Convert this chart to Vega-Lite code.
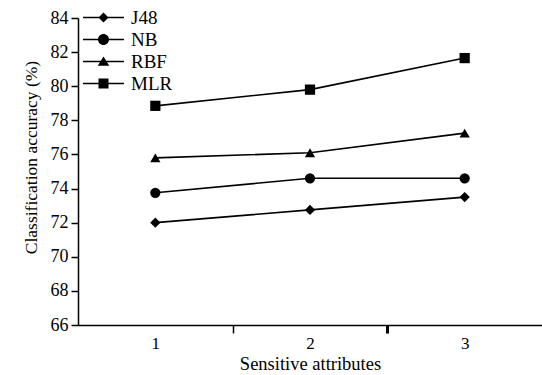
{
  "$schema": "https://vega.github.io/schema/vega-lite/v6.json",
  "width": 464,
  "height": 307,
  "autosize": {"type": "none"},
  "padding": {"left": 78, "top": 18, "right": 0, "bottom": 50},
  "background": "white",
  "config": {
    "view": {"stroke": null},
    "font": "Liberation Serif",
    "axis": {
      "grid": false,
      "domainColor": "black",
      "domainWidth": 1.5,
      "tickColor": "black",
      "tickWidth": 1.5,
      "labelColor": "black",
      "titleColor": "black",
      "labelFont": "Liberation Serif",
      "titleFont": "Liberation Serif",
      "labelFontSize": 18,
      "titleFontSize": 18,
      "titleFontWeight": "normal"
    }
  },
  "data": {
    "values": [
      {"method": "J48", "attr": 1, "acc": 72.0},
      {"method": "J48", "attr": 2, "acc": 72.75},
      {"method": "J48", "attr": 3, "acc": 73.5},
      {"method": "NB", "attr": 1, "acc": 73.75},
      {"method": "NB", "attr": 2, "acc": 74.6},
      {"method": "NB", "attr": 3, "acc": 74.6},
      {"method": "RBF", "attr": 1, "acc": 75.8},
      {"method": "RBF", "attr": 2, "acc": 76.1},
      {"method": "RBF", "attr": 3, "acc": 77.25},
      {"method": "MLR", "attr": 1, "acc": 78.85},
      {"method": "MLR", "attr": 2, "acc": 79.8},
      {"method": "MLR", "attr": 3, "acc": 81.65}
    ]
  },
  "encoding": {
    "x": {
      "field": "attr",
      "type": "quantitative",
      "scale": {"domain": [0.5, 3.5], "nice": false, "zero": false},
      "axis": {
        "values": [1, 1.5, 2, 2.5, 3],
        "labelExpr": "datum.value % 1 ? '' : '' + datum.value",
        "tickOpacity": {"condition": {"test": "datum.value % 1", "value": 1}, "value": 0},
        "tickWidth": {"condition": {"test": "datum.value == 2.5", "value": 3}, "value": 1.5},
        "tickSize": 8,
        "labelPadding": 2,
        "labelFontSize": 17,
        "titleFontSize": 18.5,
        "title": "Sensitive attributes",
        "titlePadding": 3
      }
    },
    "y": {
      "field": "acc",
      "type": "quantitative",
      "scale": {"domain": [66, 84], "nice": false, "zero": false},
      "axis": {
        "values": [66, 68, 70, 72, 74, 76, 78, 80, 82, 84],
        "tickSize": 7,
        "labelPadding": 3,
        "labelFontSize": 18,
        "titleFontSize": 17.5,
        "title": "Classification accuracy (%)",
        "titlePadding": 10,
        "titleY": 139
      }
    }
  },
  "layer": [
    {
      "mark": {"type": "line", "color": "black", "strokeWidth": 1.6},
      "encoding": {"detail": {"field": "method"}}
    },
    {
      "mark": {"type": "point", "filled": true, "color": "black", "size": 105, "opacity": 1},
      "encoding": {
        "shape": {
          "field": "method",
          "type": "nominal",
          "scale": {"domain": ["J48", "NB", "RBF", "MLR"], "range": ["diamond", "circle", "triangle-up", "square"]},
          "legend": null
        }
      }
    },
    {
      "mark": {"type": "point", "filled": true, "color": "black", "size": 100, "opacity": 0},
      "encoding": {
        "shape": {
          "field": "method",
          "type": "nominal",
          "scale": {
            "domain": ["J48", "NB", "RBF", "MLR"],
            "range": [
              "M-4.1,-0.16H4.1V0.16H-4.1ZM-1,0L0,-1L1,0L0,1Z",
              "M-4.1,-0.16H4.1V0.16H-4.1ZM-1.1,0A1.1,1.1,0,1,1,1.1,0A1.1,1.1,0,1,1,-1.1,0Z",
              "M-4.1,-0.16H4.1V0.16H-4.1ZM0,-1L1.15,0.85L-1.15,0.85Z",
              "M-4.1,-0.16H4.1V0.16H-4.1ZM-1,-1H1V1H-1Z"
            ]
          },
          "legend": {
            "orient": "none",
            "legendX": 16,
            "legendY": -10,
            "title": null,
            "labelFont": "Liberation Serif",
            "labelFontSize": 19,
            "labelColor": "black",
            "labelOffset": 18,
            "rowPadding": 2,
            "symbolSize": 100,
            "symbolOpacity": 1,
            "symbolStrokeWidth": 0,
            "symbolFillColor": "black"
          }
        }
      }
    }
  ],
  "resolve": {"scale": {"shape": "independent"}, "legend": {"shape": "independent"}}
}
